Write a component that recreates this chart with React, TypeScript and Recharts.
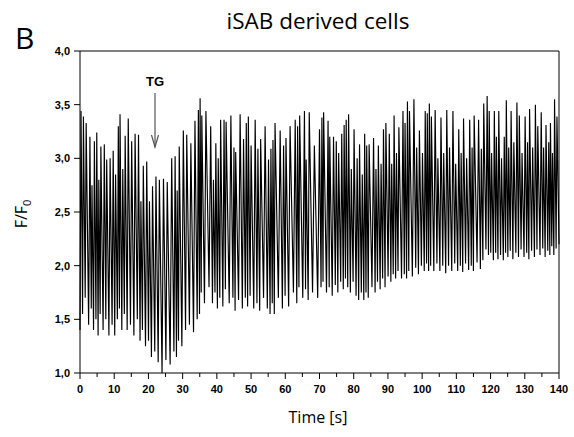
import { LineChart, Line, XAxis, YAxis, ReferenceLine } from 'recharts';

// spike peaks: time [s] and F/F0
const peakTime = [
  0.3, 1.0, 1.8, 2.9, 3.5, 4.2, 4.9, 5.5, 6.1, 7.1, 7.8, 8.8, 9.7, 10.4, 11.2, 11.7, 12.5, 13.2, 14.1, 15.1,
  16.1, 17.1, 17.8, 18.5, 19.5, 20.3, 21.2, 22.2, 23.2, 24.4, 25.5, 26.8, 27.8, 28.4, 29.0, 30.2, 31.2, 32.4, 33.6, 34.6,
  35.1, 35.6, 36.8, 38.2, 39.0, 39.7, 40.4, 41.1, 42.1, 42.7, 44.1, 45.0, 45.5, 46.8, 47.8, 48.6, 49.2, 50.0, 51.2, 52.0,
  52.8, 54.1, 55.1, 55.8, 56.4, 57.0, 58.5, 59.5, 60.2, 61.4, 62.9, 63.6, 64.2, 65.6, 66.1, 67.0, 68.5, 70.0,
  70.7, 71.2, 72.5, 73.0, 74.1, 74.9, 75.6, 76.5, 77.2, 77.8, 78.5, 79.3, 80.1, 81.0, 81.7, 82.5, 83.2, 83.8, 84.5, 85.8,
  86.5, 87.2, 88.0, 88.7, 89.4, 90.4, 91.1, 91.8, 92.5, 93.2, 94.4, 95.0, 95.7, 96.3, 97.6, 98.4, 99.2, 100.1, 100.9, 101.5,
  102.1, 102.7, 103.8, 104.6, 105.5, 106.3, 107.2, 108.0, 109.0, 109.8, 110.7, 111.4, 112.1, 113.0, 113.9, 114.6, 115.2, 116.5, 117.3, 118.0,
  119.0, 119.6, 120.3, 121.1, 121.7, 122.4, 123.2, 124.0, 124.6, 125.3, 126.0, 126.8, 127.7, 128.4, 129.2, 130.1, 130.8, 131.4, 132.3, 133.1,
  133.8, 134.8, 135.5, 136.2, 137.0, 137.5, 138.1, 138.7, 139.4,
];

const peakValue = [
  3.44, 3.39, 3.33, 3.2, 2.75, 3.16, 3.24, 2.8, 3.11, 3.13, 2.99, 3.0, 3.07, 2.85, 3.3, 3.41, 2.9, 3.21, 3.37, 3.16,
  3.23, 3.22, 2.6, 2.93, 2.97, 2.6, 2.74, 2.83, 2.8, 2.81, 2.78, 3.0, 3.02, 2.7, 3.11, 3.26, 3.22, 3.14, 3.35, 3.45,
  3.56, 3.4, 3.44, 3.3, 2.8, 3.14, 3.0, 3.36, 3.36, 3.34, 3.4, 3.1, 3.06, 3.41, 3.18, 3.33, 3.39, 3.12, 3.36, 3.09,
  3.18, 3.3, 2.99, 3.09, 3.17, 3.33, 3.26, 3.12, 3.19, 3.3, 3.36, 3.3, 3.4, 3.44, 2.99, 3.43, 3.12, 3.27,
  3.38, 3.43, 3.35, 3.2, 3.2, 3.16, 3.05, 3.23, 3.31, 3.36, 3.41, 2.9, 3.27, 3.0, 3.13, 2.85, 3.23, 3.12, 3.13, 3.19,
  2.9, 3.12, 2.95, 3.27, 3.33, 3.23, 2.95, 3.4, 3.05, 3.29, 3.44, 3.33, 3.53, 3.44, 3.55, 3.1, 3.26, 3.05, 3.44, 3.42,
  3.51, 3.39, 3.45, 3.0, 3.38, 3.05, 3.45, 3.1, 3.44, 2.95, 3.27, 3.05, 3.37, 3.0, 3.36, 3.1, 3.4, 3.36, 3.09, 3.51,
  3.58, 3.44, 3.05, 3.44, 3.2, 3.44, 3.0, 3.2, 3.54, 3.1, 3.44, 3.15, 3.52, 3.4, 3.05, 3.39, 3.15, 3.46, 3.1, 3.5,
  3.3, 3.43, 3.1, 3.31, 3.15, 3.33, 3.05, 3.55, 3.39,
];

// baseline reached after each spike
const troughValue = [
  1.55, 1.7, 1.45, 1.6, 1.4, 1.5, 1.35, 1.55, 1.4, 1.5, 1.35, 1.45, 1.35, 1.5, 1.6, 1.4, 1.55, 1.4, 1.45, 1.35,
  1.5, 1.3, 1.4, 1.25, 1.3, 1.15, 1.2, 1.1, 1.0, 1.12, 1.08, 1.2, 1.15, 1.3, 1.25, 1.4, 1.45, 1.38, 1.5, 1.55,
  1.75, 1.65, 1.8, 1.65, 1.75, 1.6, 1.7, 1.62, 1.78, 1.65, 1.7, 1.58, 1.68, 1.6, 1.7, 1.62, 1.72, 1.6, 1.65, 1.58,
  1.7, 1.6, 1.55, 1.65, 1.55, 1.7, 1.6, 1.72, 1.62, 1.75, 1.65, 1.8, 1.7, 1.78, 1.68, 1.75, 1.7, 1.8,
  1.85, 1.75, 1.8, 1.72, 1.82, 1.75, 1.85, 1.78, 1.88, 1.8, 1.75, 1.85, 1.72, 1.68, 1.75, 1.68, 1.75, 1.7, 1.8, 1.75,
  1.85, 1.78, 1.88, 1.8, 1.9, 1.85, 1.92, 1.88, 1.95, 1.88, 1.92, 1.88, 1.95, 1.9, 1.98, 1.92, 2.0, 1.95, 2.02, 1.95,
  2.0, 1.95, 2.02, 1.95, 2.0, 1.93, 2.0, 1.95, 2.02, 1.95, 2.0, 1.94, 2.02, 1.96, 2.0, 1.95, 2.03, 1.97, 2.05, 2.15,
  2.1, 2.12, 2.05, 2.12, 2.06, 2.1, 2.05, 2.12, 2.08, 2.14, 2.06, 2.12, 2.08, 2.15, 2.08, 2.12, 2.06, 2.14, 2.08, 2.15,
  2.1, 2.16, 2.08, 2.14, 2.1, 2.18, 2.1, 2.16, 2.2,
];

const startValue = 1.4;
const endTime = 140;

const xTicks = [0, 5, 10, 15, 20, 25, 30, 35, 40, 45, 50, 55, 60, 65, 70, 75, 80, 85, 90, 95, 100, 105, 110, 115, 120, 125, 130, 135, 140];
const yTicks = [1, 1.5, 2, 2.5, 3, 3.5, 4];

// trace: each spike rises fast to its peak, then decays to the trough just before the next spike
const trace: { t: number; v: number }[] = [{ t: 0, v: startValue }];
peakTime.forEach((t, i) => {
  trace.push({ t, v: peakValue[i] });
  const next = i + 1 < peakTime.length ? peakTime[i + 1] : null;
  const tt = next === null ? endTime : t + (next - t) * 0.65;
  trace.push({ t: +tt.toFixed(2), v: troughValue[i] });
});

const tickFont = "'Liberation Sans', Arial, sans-serif";
const textFont = "'Open Sans', sans-serif";

const XTick = (props: any) => {
  const { x, y, payload } = props;
  const major = payload.value % 10 === 0;
  const axisY = y - 8;
  return (
    <g>
      <line x1={x} y1={axisY} x2={x} y2={axisY + (major ? 6 : 4)} stroke="#000" />
      {major && (
        <text x={x} y={axisY + 20} textAnchor="middle" fontFamily={tickFont} fontWeight="bold" fontSize={11} fill="#000">
          {payload.value}
        </text>
      )}
    </g>
  );
};

export default function App() {
  return (
    <div style={{ position: 'absolute', left: 0, top: 0, width: 574, height: 437, background: '#fff', color: '#000' }}>
      <LineChart width={574} height={437} data={trace} margin={{ top: 51, right: 15, left: 0, bottom: 34 }}>
        <XAxis
          dataKey="t"
          type="number"
          domain={[0, 140]}
          ticks={xTicks}
          interval={0}
          height={30}
          tickSize={6}
          tickMargin={2}
          tickLine={false}
          axisLine={{ stroke: '#000' }}
          tick={<XTick />}
        />
        <YAxis
          type="number"
          domain={[1, 4]}
          ticks={yTicks}
          interval={0}
          width={80}
          tickSize={6}
          tickMargin={4}
          tickLine={{ stroke: '#000' }}
          axisLine={{ stroke: '#000' }}
          tick={{ fill: '#000', fontSize: 11, fontWeight: 'bold', fontFamily: tickFont }}
          tickFormatter={(v: number) => v.toFixed(1).replace('.', ',')}
        />
        <ReferenceLine y={4} stroke="#000" />
        <ReferenceLine x={140} stroke="#000" />
        <Line type="linear" dataKey="v" stroke="#000" strokeWidth={1.15} dot={false} isAnimationActive={false} />
      </LineChart>

      <svg style={{ position: 'absolute', left: 0, top: 0 }} width={574} height={437}>
        <text x={318} y={29} textAnchor="middle" fontFamily={textFont} fontSize={22.5} fill="#000">
          iSAB derived cells
        </text>
        <text x={15} y={49} fontFamily={textFont} fontSize={30} fill="#000">
          B
        </text>
        <text transform="translate(27, 214) rotate(-90)" textAnchor="middle" fontFamily={textFont} fontSize={16} fill="#000">
          F/F<tspan fontSize={11} dy={4}>0</tspan>
        </text>
        <text x={318} y={423} textAnchor="middle" fontFamily={textFont} fontSize={16} fill="#000">
          Time [s]
        </text>
        <text x={155} y={86} textAnchor="middle" fontFamily={tickFont} fontWeight="bold" fontSize={13} fill="#000">
          TG
        </text>
        <line x1={155} y1={93} x2={155} y2={147} stroke="#555" strokeWidth={1.2} />
        <polyline points="151.5,135 155,147 158.5,135" fill="none" stroke="#555" strokeWidth={1.2} />
      </svg>
    </div>
  );
}
